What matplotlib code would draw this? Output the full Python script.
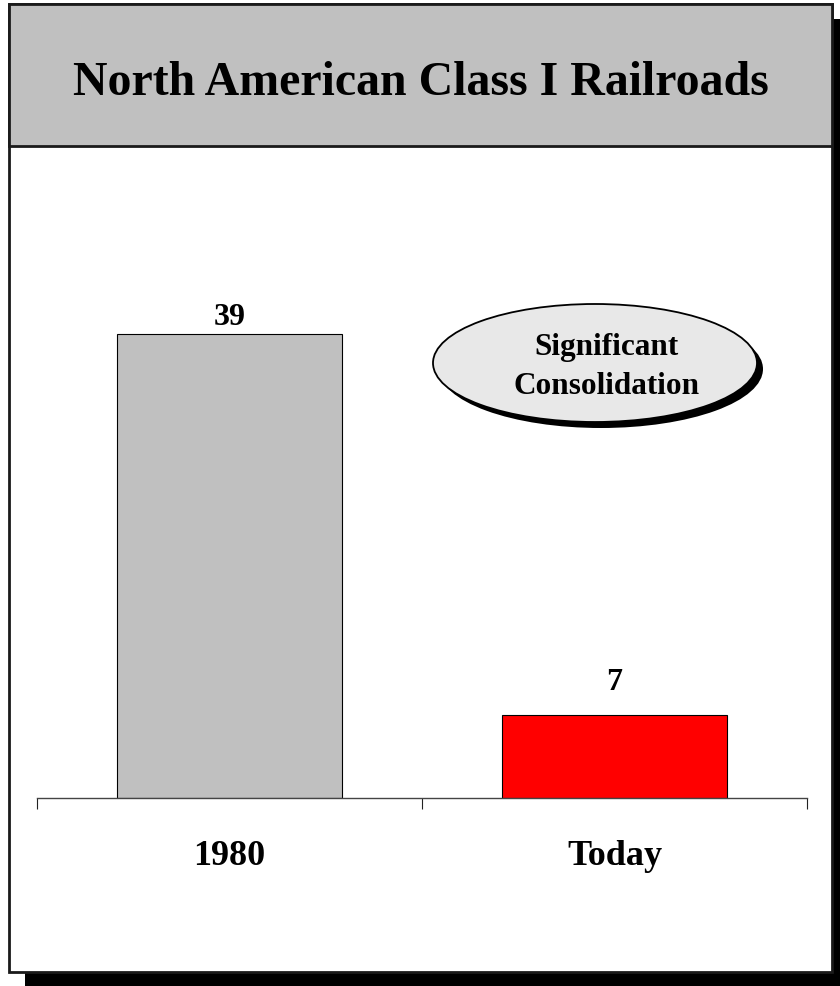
import matplotlib
matplotlib.use('Agg')
import matplotlib.pyplot as plt
from matplotlib.patches import Rectangle, Ellipse

categories = ['1980', 'Today']
railroads = [39, 7]
bar_colors = ['#c0c0c0', '#ff0000']
title = 'North American Class I Railroads'
callout = ['Significant', 'Consolidation']

plt.rcParams['font.family'] = ['Liberation Serif', 'DejaVu Serif']
plt.rcParams['font.weight'] = 'bold'

W, H = 840, 987
fig = plt.figure(figsize=(W / 100, H / 100), dpi=100)
fig.patch.set_facecolor('white')

# overlay in pixel units (origin top-left) for the frame, title box and callout
deco = fig.add_axes([0, 0, 1, 1], zorder=0)
deco.set_xlim(0, W)
deco.set_ylim(H, 0)
deco.axis('off')

# drop shadow + white panel
deco.add_patch(Rectangle((25, 20), 830, 980, facecolor='black', edgecolor='none'))
deco.add_patch(Rectangle((9, 5), 823, 968, facecolor='white', edgecolor='#1a1a1a', lw=2))
# title band
deco.add_patch(Rectangle((9, 5), 823, 142, facecolor='#c0c0c0', edgecolor='#1a1a1a', lw=2))
deco.text(420.5, 95, title, ha='center', va='baseline', fontsize=34.5, fontweight='bold')

# callout bubble
deco.add_patch(Ellipse((601, 370), 324, 118, facecolor='black', edgecolor='none'))
deco.add_patch(Ellipse((595, 364), 324, 118, facecolor='#e8e8e8', edgecolor='black', lw=1.3))
deco.text(606, 355, callout[0], ha='center', va='baseline', fontsize=22.5, fontweight='bold')
deco.text(607, 394, callout[1], ha='center', va='baseline', fontsize=22.5, fontweight='bold')

# bar chart
px_per_unit = (799 - 335) / 39
ax = fig.add_axes([37 / W, (H - 799) / H, 770 / W, (799 - 200) / H], zorder=1)
ax.patch.set_visible(False)
x = list(range(len(categories)))
ax.bar(x, railroads, width=0.587, color=bar_colors, edgecolor='black', linewidth=0.8)
ax.set_xlim(-0.5, 1.5)
ax.set_ylim(0, 599 / px_per_unit)

for side in ['left', 'right', 'top']:
    ax.spines[side].set_visible(False)
ax.spines['bottom'].set_color('#444444')
ax.spines['bottom'].set_linewidth(1)
ax.set_yticks([])
ax.set_xticks([-0.5, 0.5, 1.5])
ax.set_xticklabels([])
ax.tick_params(axis='x', direction='out', length=8, width=0.8, color='#222222')

label_offsets = [10, 26]
for i, v in enumerate(railroads):
    ax.annotate(str(v), xy=(i, v), xytext=(0, label_offsets[i]), textcoords='offset pixels',
                ha='center', va='baseline', fontsize=23, fontweight='bold')
    ax.annotate(categories[i], xy=(i, 0), xytext=(0, -66), textcoords='offset pixels',
                ha='center', va='baseline', fontsize=26, fontweight='bold')

fig.savefig('out.png', dpi=100)
